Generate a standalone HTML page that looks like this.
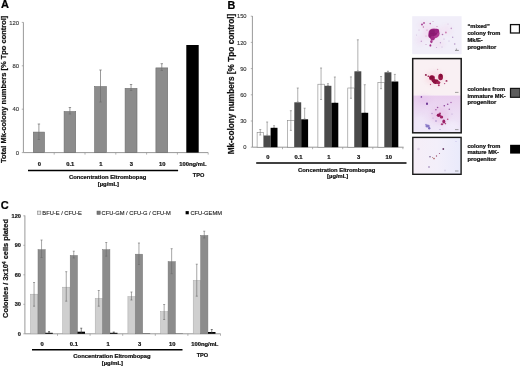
<!DOCTYPE html>
<html lang="en">
<head>
<meta charset="utf-8">
<title>Figure</title>
<style>
html,body{margin:0;padding:0;background:#fff;}
body{width:520px;height:367px;overflow:hidden;}
svg{display:block;}
</style>
</head>
<body>
<svg width="520" height="367" viewBox="0 0 520 367" font-family="'Liberation Sans', sans-serif">
<rect width="520" height="367" fill="#fff"/>
<text x="1.00" y="8.20" font-size="11" font-weight="bold" text-anchor="start" fill="#000" stroke="#000" stroke-width="0.22">A</text>
<text transform="translate(6.40 89.30) rotate(-90)" font-size="7.5" font-weight="bold" text-anchor="middle" fill="#111" stroke="#111" stroke-width="0.22">Total Mk-colony numbers [% Tpo control]</text>
<path d="M23.4 22.3V152.6H208.2" stroke="#939393" stroke-width="0.95" fill="none"/>
<path d="M21.799999999999997 152.60H23.4" stroke="#939393" stroke-width="0.7"/>
<text x="19.00" y="154.75" font-size="5.9" font-weight="normal" text-anchor="end" fill="#333" stroke="#333" stroke-width="0.12">0</text>
<path d="M21.799999999999997 109.20H23.4" stroke="#939393" stroke-width="0.7"/>
<text x="19.00" y="111.35" font-size="5.9" font-weight="normal" text-anchor="end" fill="#333" stroke="#333" stroke-width="0.12">40</text>
<path d="M21.799999999999997 65.80H23.4" stroke="#939393" stroke-width="0.7"/>
<text x="19.00" y="67.95" font-size="5.9" font-weight="normal" text-anchor="end" fill="#333" stroke="#333" stroke-width="0.12">80</text>
<path d="M21.799999999999997 22.40H23.4" stroke="#939393" stroke-width="0.7"/>
<text x="19.00" y="24.55" font-size="5.9" font-weight="normal" text-anchor="end" fill="#333" stroke="#333" stroke-width="0.12">120</text>
<path d="M54.20 152.6v2" stroke="#939393" stroke-width="0.7"/>
<path d="M85.00 152.6v2" stroke="#939393" stroke-width="0.7"/>
<path d="M115.80 152.6v2" stroke="#939393" stroke-width="0.7"/>
<path d="M146.60 152.6v2" stroke="#939393" stroke-width="0.7"/>
<path d="M177.40 152.6v2" stroke="#939393" stroke-width="0.7"/>
<path d="M208.20 152.6v2" stroke="#939393" stroke-width="0.7"/>
<rect x="33.30" y="132.10" width="11.20" height="20.50" fill="#8c8c8c" stroke="#6c6c6c" stroke-width="0.6"/>
<path d="M38.90 124.00V139.50M37.70 124.00h2.40M37.70 139.50h2.40" stroke="#6e6e6e" stroke-width="0.7" fill="none"/>
<rect x="64.10" y="111.60" width="11.60" height="41.00" fill="#8c8c8c" stroke="#6c6c6c" stroke-width="0.6"/>
<path d="M69.90 107.50V114.00M68.70 107.50h2.40M68.70 114.00h2.40" stroke="#6e6e6e" stroke-width="0.7" fill="none"/>
<rect x="94.60" y="86.60" width="11.80" height="66.00" fill="#8c8c8c" stroke="#6c6c6c" stroke-width="0.6"/>
<path d="M100.50 70.00V102.00M99.30 70.00h2.40M99.30 102.00h2.40" stroke="#6e6e6e" stroke-width="0.7" fill="none"/>
<rect x="125.10" y="88.40" width="11.90" height="64.20" fill="#8c8c8c" stroke="#6c6c6c" stroke-width="0.6"/>
<path d="M131.05 84.50V90.50M129.85 84.50h2.40M129.85 90.50h2.40" stroke="#6e6e6e" stroke-width="0.7" fill="none"/>
<rect x="155.90" y="67.90" width="11.80" height="84.70" fill="#8c8c8c" stroke="#6c6c6c" stroke-width="0.6"/>
<path d="M161.80 63.70V70.50M160.60 63.70h2.40M160.60 70.50h2.40" stroke="#6e6e6e" stroke-width="0.7" fill="none"/>
<rect x="186.30" y="45.00" width="12.40" height="107.60" fill="#000"/>
<text x="39.30" y="166.30" font-size="5.8" font-weight="bold" text-anchor="middle" fill="#111" stroke="#111" stroke-width="0.22">0</text>
<text x="70.30" y="166.30" font-size="5.8" font-weight="bold" text-anchor="middle" fill="#111" stroke="#111" stroke-width="0.22">0.1</text>
<text x="100.90" y="166.30" font-size="5.8" font-weight="bold" text-anchor="middle" fill="#111" stroke="#111" stroke-width="0.22">1</text>
<text x="131.45" y="166.30" font-size="5.8" font-weight="bold" text-anchor="middle" fill="#111" stroke="#111" stroke-width="0.22">3</text>
<text x="162.20" y="166.30" font-size="5.8" font-weight="bold" text-anchor="middle" fill="#111" stroke="#111" stroke-width="0.22">10</text>
<text x="192.90" y="166.30" font-size="5.8" font-weight="bold" text-anchor="middle" fill="#111" stroke="#111" stroke-width="0.22">100ng/mL</text>
<path d="M28 170.45H178.1" stroke="#000" stroke-width="1.5"/>
<text x="107.60" y="178.80" font-size="5.85" font-weight="bold" text-anchor="middle" fill="#111" stroke="#111" stroke-width="0.22">Concentration Eltrombopag</text>
<text x="108.40" y="186.10" font-size="5.85" font-weight="bold" text-anchor="middle" fill="#111" stroke="#111" stroke-width="0.22">[µg/mL]</text>
<text x="198.60" y="176.90" font-size="5.6" font-weight="bold" text-anchor="middle" fill="#111" stroke="#111" stroke-width="0.22">TPO</text>
<text x="227.60" y="8.80" font-size="10.8" font-weight="bold" text-anchor="start" fill="#000" stroke="#000" stroke-width="0.22">B</text>
<text transform="translate(233.50 84.00) rotate(-90)" font-size="8.25" font-weight="bold" text-anchor="middle" fill="#111" stroke="#111" stroke-width="0.22">Mk-colony numbers [% Tpo control]</text>
<path d="M252.4 16V147.2H403.6" stroke="#939393" stroke-width="0.95" fill="none"/>
<path d="M250.8 147.20H252.4" stroke="#939393" stroke-width="0.7"/>
<text x="246.60" y="149.30" font-size="5.8" font-weight="normal" text-anchor="end" fill="#333" stroke="#333" stroke-width="0.12">0</text>
<path d="M250.8 121.00H252.4" stroke="#939393" stroke-width="0.7"/>
<text x="246.60" y="123.10" font-size="5.8" font-weight="normal" text-anchor="end" fill="#333" stroke="#333" stroke-width="0.12">30</text>
<path d="M250.8 94.80H252.4" stroke="#939393" stroke-width="0.7"/>
<text x="246.60" y="96.90" font-size="5.8" font-weight="normal" text-anchor="end" fill="#333" stroke="#333" stroke-width="0.12">60</text>
<path d="M250.8 68.60H252.4" stroke="#939393" stroke-width="0.7"/>
<text x="246.60" y="70.70" font-size="5.8" font-weight="normal" text-anchor="end" fill="#333" stroke="#333" stroke-width="0.12">90</text>
<path d="M250.8 42.40H252.4" stroke="#939393" stroke-width="0.7"/>
<text x="246.60" y="44.50" font-size="5.8" font-weight="normal" text-anchor="end" fill="#333" stroke="#333" stroke-width="0.12">120</text>
<path d="M250.8 16.20H252.4" stroke="#939393" stroke-width="0.7"/>
<text x="246.60" y="18.30" font-size="5.8" font-weight="normal" text-anchor="end" fill="#333" stroke="#333" stroke-width="0.12">150</text>
<path d="M282.50 147.2v2" stroke="#939393" stroke-width="0.7"/>
<path d="M312.60 147.2v2" stroke="#939393" stroke-width="0.7"/>
<path d="M342.70 147.2v2" stroke="#939393" stroke-width="0.7"/>
<path d="M372.80 147.2v2" stroke="#939393" stroke-width="0.7"/>
<path d="M402.90 147.2v2" stroke="#939393" stroke-width="0.7"/>
<rect x="257.10" y="132.50" width="6.60" height="14.70" fill="#fff" stroke="#7d7d7d" stroke-width="0.55"/>
<path d="M260.25 129.50V135.00M259.25 129.50h2.00M259.25 135.00h2.00" stroke="#7a7a7a" stroke-width="0.6" fill="none"/>
<rect x="263.70" y="135.50" width="6.90" height="11.70" fill="#4a4a4a"/>
<path d="M267.15 122.00V135.20M266.15 122.00h2.00M266.15 135.20h2.00" stroke="#7a7a7a" stroke-width="0.6" fill="none"/>
<rect x="270.60" y="127.80" width="6.90" height="19.40" fill="#000"/>
<path d="M274.05 125.70V127.50M273.05 125.70h2.00M273.05 127.50h2.00" stroke="#7a7a7a" stroke-width="0.6" fill="none"/>
<rect x="287.70" y="120.70" width="6.60" height="26.50" fill="#fff" stroke="#7d7d7d" stroke-width="0.55"/>
<path d="M290.85 110.70V130.40M289.85 110.70h2.00M289.85 130.40h2.00" stroke="#7a7a7a" stroke-width="0.6" fill="none"/>
<rect x="294.30" y="102.30" width="6.90" height="44.90" fill="#4a4a4a"/>
<path d="M297.75 88.00V102.00M296.75 88.00h2.00M296.75 102.00h2.00" stroke="#7a7a7a" stroke-width="0.6" fill="none"/>
<rect x="301.20" y="119.30" width="6.90" height="27.90" fill="#000"/>
<path d="M304.65 108.20V119.00M303.65 108.20h2.00M303.65 119.00h2.00" stroke="#7a7a7a" stroke-width="0.6" fill="none"/>
<rect x="317.90" y="84.20" width="6.60" height="63.00" fill="#fff" stroke="#7d7d7d" stroke-width="0.55"/>
<path d="M321.05 68.00V99.50M320.05 68.00h2.00M320.05 99.50h2.00" stroke="#7a7a7a" stroke-width="0.6" fill="none"/>
<rect x="324.50" y="85.80" width="6.90" height="61.40" fill="#4a4a4a"/>
<path d="M327.95 83.70V85.50M326.95 83.70h2.00M326.95 85.50h2.00" stroke="#7a7a7a" stroke-width="0.6" fill="none"/>
<rect x="331.40" y="102.80" width="6.90" height="44.40" fill="#000"/>
<path d="M334.85 77.00V102.50M333.85 77.00h2.00M333.85 102.50h2.00" stroke="#7a7a7a" stroke-width="0.6" fill="none"/>
<rect x="347.80" y="88.00" width="6.60" height="59.20" fill="#fff" stroke="#7d7d7d" stroke-width="0.55"/>
<path d="M350.95 76.90V98.30M349.95 76.90h2.00M349.95 98.30h2.00" stroke="#7a7a7a" stroke-width="0.6" fill="none"/>
<rect x="354.40" y="71.30" width="6.90" height="75.90" fill="#4a4a4a"/>
<path d="M357.85 39.80V71.00M356.85 39.80h2.00M356.85 71.00h2.00" stroke="#7a7a7a" stroke-width="0.6" fill="none"/>
<rect x="361.30" y="112.80" width="6.90" height="34.40" fill="#000"/>
<path d="M364.75 84.70V112.50M363.75 84.70h2.00M363.75 112.50h2.00" stroke="#7a7a7a" stroke-width="0.6" fill="none"/>
<rect x="377.90" y="82.50" width="6.60" height="64.70" fill="#fff" stroke="#7d7d7d" stroke-width="0.55"/>
<path d="M381.05 76.50V88.70M380.05 76.50h2.00M380.05 88.70h2.00" stroke="#7a7a7a" stroke-width="0.6" fill="none"/>
<rect x="384.50" y="72.30" width="6.90" height="74.90" fill="#4a4a4a"/>
<path d="M387.95 71.20V72.00M386.95 71.20h2.00M386.95 72.00h2.00" stroke="#7a7a7a" stroke-width="0.6" fill="none"/>
<rect x="391.40" y="81.50" width="6.90" height="65.70" fill="#000"/>
<path d="M394.85 74.40V81.20M393.85 74.40h2.00M393.85 81.20h2.00" stroke="#7a7a7a" stroke-width="0.6" fill="none"/>
<text x="267.95" y="159.10" font-size="5.8" font-weight="bold" text-anchor="middle" fill="#111" stroke="#111" stroke-width="0.22">0</text>
<text x="298.55" y="159.10" font-size="5.8" font-weight="bold" text-anchor="middle" fill="#111" stroke="#111" stroke-width="0.22">0.1</text>
<text x="328.75" y="159.10" font-size="5.8" font-weight="bold" text-anchor="middle" fill="#111" stroke="#111" stroke-width="0.22">1</text>
<text x="358.65" y="159.10" font-size="5.8" font-weight="bold" text-anchor="middle" fill="#111" stroke="#111" stroke-width="0.22">3</text>
<text x="388.75" y="159.10" font-size="5.8" font-weight="bold" text-anchor="middle" fill="#111" stroke="#111" stroke-width="0.22">10</text>
<path d="M256.2 162.9H406.5" stroke="#000" stroke-width="1.5"/>
<text x="336.70" y="171.50" font-size="5.85" font-weight="bold" text-anchor="middle" fill="#111" stroke="#111" stroke-width="0.22">Concentration Eltrombopag</text>
<text x="337.70" y="178.30" font-size="5.85" font-weight="bold" text-anchor="middle" fill="#111" stroke="#111" stroke-width="0.22">[µg/mL]</text>
<defs><filter id="bl" x="-20%" y="-20%" width="140%" height="140%"><feGaussianBlur stdDeviation="0.5"/></filter><filter id="bl2" x="-30%" y="-30%" width="160%" height="160%"><feGaussianBlur stdDeviation="2.2"/></filter><linearGradient id="g3" x1="0" x2="1"><stop offset="0" stop-color="#f6eef7"/><stop offset="0.5" stop-color="#f3effa"/><stop offset="1" stop-color="#e9eafb"/></linearGradient><linearGradient id="g2" x1="0" x2="0" y1="0" y2="1"><stop offset="0" stop-color="#e9cdee"/><stop offset="0.45" stop-color="#ecdcf4"/><stop offset="1" stop-color="#efe9f9"/></linearGradient><clipPath id="c1"><rect x="412.2" y="16.2" width="49.4" height="38"/></clipPath><clipPath id="c2"><rect x="412.7" y="58.2" width="48.4" height="74.6"/></clipPath></defs>
<rect x="412.2" y="16.2" width="49.4" height="38" fill="#f1eef9"/>
<g clip-path="url(#c1)"><g filter="url(#bl2)" opacity="0.4">
<ellipse cx="432" cy="33" rx="9" ry="7" fill="#f0c4e4"/>
<ellipse cx="424" cy="25" rx="5" ry="3" fill="#f2cfe8"/>
<ellipse cx="446" cy="30" rx="6" ry="5" fill="#f4d8ee"/>
<ellipse cx="438" cy="44" rx="7" ry="4" fill="#f1d4ec"/>
<ellipse cx="420" cy="40" rx="4" ry="5" fill="#efd6f0"/>
</g></g>
<g filter="url(#bl)">
<ellipse cx="434.0" cy="33.4" rx="5.6" ry="5.0" fill="#b03a94"/>
<ellipse cx="433.2" cy="32.6" rx="4.0" ry="3.4" fill="#8c1a72"/>
<ellipse cx="436.8" cy="31.0" rx="2.4" ry="2.2" fill="#9a2480"/>
<ellipse cx="431.0" cy="35.6" rx="2.6" ry="2.6" fill="#8c1a72"/>
<ellipse cx="432.6" cy="38.2" rx="2.2" ry="2.2" fill="#a02c86"/>
<ellipse cx="431.4" cy="41.6" rx="1.2" ry="1.6" fill="#a83c90"/>
<ellipse cx="430.4" cy="45.4" rx="0.9" ry="1.2" fill="#a03088"/>
<circle cx="422" cy="24.4" r="1.0" fill="#a8489a"/>
<circle cx="424" cy="23.0" r="0.9" fill="#b0509a"/>
<circle cx="423.4" cy="27" r="0.7" fill="#c070a8"/>
<circle cx="430.2" cy="23.6" r="0.8" fill="#b860a4"/>
<circle cx="442.5" cy="34.5" r="0.8" fill="#b070ac"/>
<circle cx="445.9" cy="32.5" r="0.9" fill="#d080b4"/>
<circle cx="451.3" cy="28.4" r="0.8" fill="#c49ccc"/>
<circle cx="452.7" cy="37.2" r="0.7" fill="#b494c6"/>
<circle cx="454.7" cy="44" r="0.8" fill="#b494c6"/>
<circle cx="421.3" cy="41.3" r="0.7" fill="#c49ccc"/>
<circle cx="440.4" cy="42.7" r="0.7" fill="#bc9ccc"/>
<circle cx="437" cy="26.5" r="0.6" fill="#c888b8"/>
<circle cx="419" cy="30" r="0.5" fill="#c8a0cc"/>
<circle cx="448" cy="24" r="0.5" fill="#d0b0d8"/>
<circle cx="442" cy="47" r="0.5" fill="#c0a8d4"/>
<circle cx="426" cy="44.5" r="0.5" fill="#c090c0"/>
<circle cx="433" cy="21.5" r="0.5" fill="#d0a0c8"/>
<circle cx="449" cy="41" r="0.5" fill="#c0a8d4"/>
<circle cx="416.5" cy="35" r="0.5" fill="#d0b8dc"/>
<circle cx="427" cy="30" r="0.6" fill="#c888b8"/>
<circle cx="426" cy="36" r="0.6" fill="#d098c0"/>
<circle cx="444" cy="39" r="0.6" fill="#c8a8d4"/>
<circle cx="436.5" cy="47.5" r="0.6" fill="#c8a8d4"/>
</g>
<path d="M455 50.4h3.8M456.4 48.6v1.2" stroke="#666" stroke-width="0.7"/>
<rect x="412.7" y="58.2" width="48.4" height="37.3" fill="#f9f0f3"/>
<rect x="412.7" y="95.5" width="48.4" height="37.3" fill="url(#g2)"/>
<g clip-path="url(#c2)"><g filter="url(#bl2)" opacity="0.5">
<ellipse cx="435" cy="78" rx="10" ry="7" fill="#f6d0dc"/>
<ellipse cx="440" cy="115" rx="9" ry="8" fill="#e8bce4"/>
<ellipse cx="424" cy="100" rx="6" ry="4" fill="#e4c0ec"/>
<ellipse cx="452" cy="126" rx="7" ry="5" fill="#f4f0fc"/>
<ellipse cx="420" cy="122" rx="6" ry="7" fill="#f2ecfa"/>
</g></g>
<g filter="url(#bl)">
<ellipse cx="432" cy="77.8" rx="3.0" ry="2.6" fill="#b02860"/>
<ellipse cx="431.8" cy="77.6" rx="2.2" ry="2.0" fill="#861038"/>
<ellipse cx="435.6" cy="81.6" rx="3.0" ry="2.4" fill="#8c1240"/>
<ellipse cx="433.4" cy="80.4" rx="1.8" ry="1.8" fill="#8c1240"/>
<ellipse cx="440.6" cy="77.0" rx="2.4" ry="3.2" fill="#9a1848"/>
<ellipse cx="440.8" cy="75.6" rx="1.4" ry="1.8" fill="#861038"/>
<ellipse cx="438.4" cy="82.6" rx="2.0" ry="1.6" fill="#a42456"/>
<ellipse cx="438.8" cy="85.2" rx="1.0" ry="1.0" fill="#b03468"/>
<ellipse cx="425.9" cy="74.9" rx="1.0" ry="0.9" fill="#8c1a48"/>
<ellipse cx="428.4" cy="76.2" rx="1.0" ry="0.8" fill="#a02858"/>
<ellipse cx="446.5" cy="80.9" rx="1.0" ry="0.9" fill="#a03060"/>
<ellipse cx="444.6" cy="83.6" rx="0.7" ry="0.7" fill="#b85080"/>
<ellipse cx="437.6" cy="69.5" rx="0.7" ry="0.7" fill="#d8a8bc"/>
<ellipse cx="430.5" cy="84.5" rx="0.7" ry="0.7" fill="#b85080"/>
<ellipse cx="438.7" cy="115.3" rx="2.0" ry="1.8" fill="#94185c"/>
<ellipse cx="441.5" cy="117" rx="1.7" ry="1.5" fill="#a02466"/>
<ellipse cx="440" cy="113.6" rx="1.0" ry="1.0" fill="#a02c70"/>
<ellipse cx="443.8" cy="121.5" rx="1.5" ry="1.9" fill="#9c2468"/>
<ellipse cx="442" cy="124.3" rx="1.3" ry="1.0" fill="#a84080"/>
<ellipse cx="447.7" cy="119.3" rx="0.8" ry="0.8" fill="#b04880"/>
<ellipse cx="445.4" cy="123.6" rx="0.8" ry="0.8" fill="#b04880"/>
<ellipse cx="427.6" cy="126" rx="2.2" ry="1.5" fill="#8878c6"/>
<ellipse cx="429.2" cy="128.2" rx="1.2" ry="1.3" fill="#8070c0"/>
<ellipse cx="426" cy="124.6" rx="0.9" ry="0.8" fill="#9a88d0"/>
<ellipse cx="427" cy="103.8" rx="1.0" ry="1.2" fill="#683090"/>
<ellipse cx="421.4" cy="96.9" rx="0.8" ry="0.9" fill="#8048a0"/>
<ellipse cx="444.3" cy="105.8" rx="0.8" ry="0.8" fill="#8a3c98"/>
<ellipse cx="447.7" cy="104.2" rx="0.8" ry="0.8" fill="#94489c"/>
<ellipse cx="451" cy="102.5" rx="0.7" ry="0.7" fill="#a060ac"/>
<ellipse cx="437.6" cy="107.5" rx="0.8" ry="0.8" fill="#9850a0"/>
<ellipse cx="435.9" cy="109.8" rx="0.8" ry="0.8" fill="#a058a4"/>
<ellipse cx="449.3" cy="109.2" rx="0.8" ry="0.8" fill="#a468b0"/>
<ellipse cx="432" cy="113.5" rx="0.7" ry="0.7" fill="#b088c4"/>
<ellipse cx="436" cy="121" rx="0.7" ry="0.7" fill="#9078c0"/>
<ellipse cx="433" cy="118" rx="0.6" ry="0.6" fill="#b8a0d0"/>
<ellipse cx="452" cy="114" rx="0.6" ry="0.6" fill="#b8a0d0"/>
<ellipse cx="440" cy="129.5" rx="0.6" ry="0.6" fill="#a090c8"/>
</g>
<rect x="412.7" y="58.6" width="48.5" height="74.2" fill="none" stroke="#1a1a1a" stroke-width="1.5"/>
<path d="M455 92.4h3.5M455 129.6h3.5" stroke="#666" stroke-width="0.6"/>
<rect x="412.8" y="137.4" width="48.3" height="36.9" fill="url(#g3)" stroke="#1a1a1a" stroke-width="1.4"/>
<g filter="url(#bl)">
<circle cx="443.3" cy="149" r="0.9" fill="#663a66"/>
<circle cx="439.5" cy="153.5" r="0.6" fill="#a06080"/>
<circle cx="430" cy="156.8" r="0.8" fill="#786090"/>
<circle cx="436.5" cy="156" r="0.7" fill="#a05070"/>
<circle cx="434" cy="158.6" r="0.8" fill="#a86060"/>
<circle cx="432.6" cy="157.4" r="0.5" fill="#b07878"/>
<circle cx="429" cy="167" r="0.8" fill="#8c70a8"/>
<circle cx="418.5" cy="149" r="1.3" fill="#e2d2ea"/>
<circle cx="445" cy="170.5" r="0.9" fill="#d8d0e8"/>
<circle cx="456" cy="141.5" r="0.6" fill="#c8c0e8"/>
</g>
<path d="M455 171h3.5" stroke="#666" stroke-width="0.6"/>
<text x="467.40" y="27.70" font-size="5.75" font-weight="bold" text-anchor="start" fill="#111" stroke="#111" stroke-width="0.22">“mixed”</text>
<text x="467.40" y="34.70" font-size="5.75" font-weight="bold" text-anchor="start" fill="#111" stroke="#111" stroke-width="0.22">colony from</text>
<text x="467.40" y="41.80" font-size="5.75" font-weight="bold" text-anchor="start" fill="#111" stroke="#111" stroke-width="0.22">Mk/E-</text>
<text x="467.40" y="48.60" font-size="5.75" font-weight="bold" text-anchor="start" fill="#111" stroke="#111" stroke-width="0.22">progenitor</text>
<text x="467.40" y="91.20" font-size="5.75" font-weight="bold" text-anchor="start" fill="#111" stroke="#111" stroke-width="0.22">colonies from</text>
<text x="467.40" y="97.90" font-size="5.75" font-weight="bold" text-anchor="start" fill="#111" stroke="#111" stroke-width="0.22">immature MK-</text>
<text x="467.40" y="104.40" font-size="5.75" font-weight="bold" text-anchor="start" fill="#111" stroke="#111" stroke-width="0.22">progenitor</text>
<text x="467.40" y="147.50" font-size="5.75" font-weight="bold" text-anchor="start" fill="#111" stroke="#111" stroke-width="0.22">colony from</text>
<text x="467.40" y="154.30" font-size="5.75" font-weight="bold" text-anchor="start" fill="#111" stroke="#111" stroke-width="0.22">mature MK-</text>
<text x="467.40" y="160.70" font-size="5.75" font-weight="bold" text-anchor="start" fill="#111" stroke="#111" stroke-width="0.22">progenitor</text>
<rect x="510.5" y="24.6" width="9" height="8.4" fill="#fff" stroke="#111" stroke-width="1.3"/>
<rect x="510.5" y="88.4" width="9.6" height="8.9" fill="#5c5c5c" stroke="#151515" stroke-width="1.2"/>
<rect x="510.1" y="144.8" width="10" height="8.8" fill="#000"/>
<text x="0.80" y="208.70" font-size="11" font-weight="bold" text-anchor="start" fill="#000" stroke="#000" stroke-width="0.22">C</text>
<text transform="translate(8.1 268.5) rotate(-90)" font-size="7.4" font-weight="bold" text-anchor="middle" fill="#111" stroke="#111" stroke-width="0.22">Colonies / 3x10<tspan font-size="5" dy="-2.4">4</tspan><tspan dy="2.4"> cells plated</tspan></text>
<path d="M24.9 215.5V333.8H220.6" stroke="#939393" stroke-width="0.95" fill="none"/>
<path d="M23.299999999999997 333.80H24.9" stroke="#939393" stroke-width="0.7"/>
<text x="20.90" y="335.90" font-size="5.6" font-weight="bold" text-anchor="end" fill="#222" stroke="#222" stroke-width="0.22">0</text>
<path d="M23.299999999999997 304.30H24.9" stroke="#939393" stroke-width="0.7"/>
<text x="20.90" y="306.40" font-size="5.6" font-weight="bold" text-anchor="end" fill="#222" stroke="#222" stroke-width="0.22">30</text>
<path d="M23.299999999999997 274.80H24.9" stroke="#939393" stroke-width="0.7"/>
<text x="20.90" y="276.90" font-size="5.6" font-weight="bold" text-anchor="end" fill="#222" stroke="#222" stroke-width="0.22">60</text>
<path d="M23.299999999999997 245.30H24.9" stroke="#939393" stroke-width="0.7"/>
<text x="20.90" y="247.40" font-size="5.6" font-weight="bold" text-anchor="end" fill="#222" stroke="#222" stroke-width="0.22">90</text>
<path d="M23.299999999999997 215.80H24.9" stroke="#939393" stroke-width="0.7"/>
<text x="20.90" y="217.90" font-size="5.6" font-weight="bold" text-anchor="end" fill="#222" stroke="#222" stroke-width="0.22">120</text>
<path d="M57.50 333.8v2" stroke="#939393" stroke-width="0.7"/>
<path d="M90.10 333.8v2" stroke="#939393" stroke-width="0.7"/>
<path d="M122.70 333.8v2" stroke="#939393" stroke-width="0.7"/>
<path d="M155.30 333.8v2" stroke="#939393" stroke-width="0.7"/>
<path d="M187.90 333.8v2" stroke="#939393" stroke-width="0.7"/>
<path d="M220.50 333.8v2" stroke="#939393" stroke-width="0.7"/>
<rect x="30.50" y="294.20" width="7.30" height="39.60" fill="#cfcfcf" stroke="#a8a8a8" stroke-width="0.5"/>
<path d="M34.05 282.50V306.20M33.05 282.50h2.00M33.05 306.20h2.00" stroke="#6a6a6a" stroke-width="0.6" fill="none"/>
<rect x="38.00" y="249.70" width="7.20" height="84.10" fill="#8c8c8c" stroke="#747474" stroke-width="0.5"/>
<path d="M41.55 240.00V257.50M40.55 240.00h2.00M40.55 257.50h2.00" stroke="#6a6a6a" stroke-width="0.6" fill="none"/>
<rect x="45.30" y="332.80" width="7.50" height="1.00" fill="#000"/>
<path d="M49.05 331.50V333.00M48.05 331.50h2.00M48.05 333.00h2.00" stroke="#333" stroke-width="0.6" fill="none"/>
<rect x="62.70" y="287.20" width="7.30" height="46.60" fill="#cfcfcf" stroke="#a8a8a8" stroke-width="0.5"/>
<path d="M66.25 271.70V301.20M65.25 271.70h2.00M65.25 301.20h2.00" stroke="#6a6a6a" stroke-width="0.6" fill="none"/>
<rect x="70.20" y="255.50" width="7.20" height="78.30" fill="#8c8c8c" stroke="#747474" stroke-width="0.5"/>
<path d="M73.75 251.20V258.00M72.75 251.20h2.00M72.75 258.00h2.00" stroke="#6a6a6a" stroke-width="0.6" fill="none"/>
<rect x="77.50" y="331.70" width="7.50" height="2.10" fill="#000"/>
<path d="M81.25 328.20V333.00M80.25 328.20h2.00M80.25 333.00h2.00" stroke="#333" stroke-width="0.6" fill="none"/>
<rect x="95.20" y="298.50" width="7.30" height="35.30" fill="#cfcfcf" stroke="#a8a8a8" stroke-width="0.5"/>
<path d="M98.75 290.50V306.20M97.75 290.50h2.00M97.75 306.20h2.00" stroke="#6a6a6a" stroke-width="0.6" fill="none"/>
<rect x="102.70" y="249.70" width="7.20" height="84.10" fill="#8c8c8c" stroke="#747474" stroke-width="0.5"/>
<path d="M106.25 242.50V256.20M105.25 242.50h2.00M105.25 256.20h2.00" stroke="#6a6a6a" stroke-width="0.6" fill="none"/>
<rect x="110.00" y="332.80" width="7.50" height="1.00" fill="#000"/>
<path d="M113.75 332.00V333.00M112.75 332.00h2.00M112.75 333.00h2.00" stroke="#333" stroke-width="0.6" fill="none"/>
<rect x="127.90" y="296.70" width="7.30" height="37.10" fill="#cfcfcf" stroke="#a8a8a8" stroke-width="0.5"/>
<path d="M131.45 292.00V300.00M130.45 292.00h2.00M130.45 300.00h2.00" stroke="#6a6a6a" stroke-width="0.6" fill="none"/>
<rect x="135.40" y="254.20" width="7.20" height="79.60" fill="#8c8c8c" stroke="#747474" stroke-width="0.5"/>
<path d="M138.95 243.00V264.50M137.95 243.00h2.00M137.95 264.50h2.00" stroke="#6a6a6a" stroke-width="0.6" fill="none"/>
<rect x="142.70" y="333.50" width="7.50" height="0.30" fill="#000"/>
<rect x="160.60" y="311.70" width="7.30" height="22.10" fill="#cfcfcf" stroke="#a8a8a8" stroke-width="0.5"/>
<path d="M164.15 304.50V319.50M163.15 304.50h2.00M163.15 319.50h2.00" stroke="#6a6a6a" stroke-width="0.6" fill="none"/>
<rect x="168.10" y="261.70" width="7.20" height="72.10" fill="#8c8c8c" stroke="#747474" stroke-width="0.5"/>
<path d="M171.65 248.70V273.70M170.65 248.70h2.00M170.65 273.70h2.00" stroke="#6a6a6a" stroke-width="0.6" fill="none"/>
<rect x="175.40" y="333.60" width="7.50" height="0.20" fill="#000"/>
<rect x="193.20" y="280.50" width="7.30" height="53.30" fill="#cfcfcf" stroke="#a8a8a8" stroke-width="0.5"/>
<path d="M196.75 264.20V296.20M195.75 264.20h2.00M195.75 296.20h2.00" stroke="#6a6a6a" stroke-width="0.6" fill="none"/>
<rect x="200.70" y="235.50" width="7.20" height="98.30" fill="#8c8c8c" stroke="#747474" stroke-width="0.5"/>
<path d="M204.25 231.20V238.00M203.25 231.20h2.00M203.25 238.00h2.00" stroke="#6a6a6a" stroke-width="0.6" fill="none"/>
<rect x="208.00" y="332.00" width="7.50" height="1.80" fill="#000"/>
<path d="M211.75 329.50V333.00M210.75 329.50h2.00M210.75 333.00h2.00" stroke="#333" stroke-width="0.6" fill="none"/>
<text x="42.15" y="345.80" font-size="5.8" font-weight="bold" text-anchor="middle" fill="#111" stroke="#111" stroke-width="0.22">0</text>
<text x="73.85" y="345.80" font-size="5.8" font-weight="bold" text-anchor="middle" fill="#111" stroke="#111" stroke-width="0.22">0.1</text>
<text x="108.05" y="345.80" font-size="5.8" font-weight="bold" text-anchor="middle" fill="#111" stroke="#111" stroke-width="0.22">1</text>
<text x="139.55" y="345.80" font-size="5.8" font-weight="bold" text-anchor="middle" fill="#111" stroke="#111" stroke-width="0.22">3</text>
<text x="172.25" y="345.80" font-size="5.8" font-weight="bold" text-anchor="middle" fill="#111" stroke="#111" stroke-width="0.22">10</text>
<text x="204.85" y="345.80" font-size="5.8" font-weight="bold" text-anchor="middle" fill="#111" stroke="#111" stroke-width="0.22">100ng/mL</text>
<path d="M32 349.8H182.5" stroke="#000" stroke-width="1.5"/>
<text x="112.00" y="357.90" font-size="5.85" font-weight="bold" text-anchor="middle" fill="#111" stroke="#111" stroke-width="0.22">Concentration Eltrombopag</text>
<text x="112.40" y="365.30" font-size="5.85" font-weight="bold" text-anchor="middle" fill="#111" stroke="#111" stroke-width="0.22">[µg/mL]</text>
<text x="202.40" y="356.60" font-size="5.6" font-weight="bold" text-anchor="middle" fill="#111" stroke="#111" stroke-width="0.22">TPO</text>
<rect x="37.6" y="211.1" width="3.2" height="3.2" fill="#e4e4e4" stroke="#858585" stroke-width="0.6"/>
<text x="42.30" y="214.80" font-size="5.75" font-weight="normal" text-anchor="start" fill="#1c1c1c" stroke="#1c1c1c" stroke-width="0.12">BFU-E / CFU-E</text>
<rect x="97" y="211.1" width="3.2" height="3.2" fill="#777" stroke="#5a5a5a" stroke-width="0.6"/>
<text x="101.50" y="214.80" font-size="5.75" font-weight="normal" text-anchor="start" fill="#1c1c1c" stroke="#1c1c1c" stroke-width="0.12">CFU-GM / CFU-G / CFU-M</text>
<rect x="185.6" y="211.1" width="3.2" height="3.2" fill="#000"/>
<text x="190.40" y="214.80" font-size="5.75" font-weight="normal" text-anchor="start" fill="#1c1c1c" stroke="#1c1c1c" stroke-width="0.12">CFU-GEMM</text>
</svg>
</body>
</html>
